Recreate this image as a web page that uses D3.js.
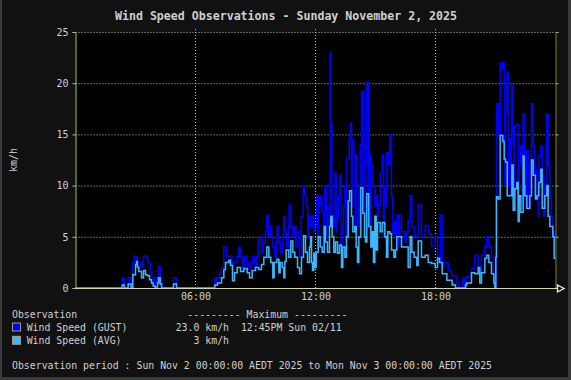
<!DOCTYPE html>
<html><head><meta charset="utf-8">
<script src="https://cdn.jsdelivr.net/npm/d3@7"></script>
<style>
html,body{margin:0;padding:0;background:#111;}
svg{display:block;}
text{font-family:"DejaVu Sans Mono",monospace;fill:#d0d0d0;}
</style></head><body>
<svg id="c" width="571" height="380"></svg>
<script>
const title = "Wind Speed Observations - Sunday November 2, 2025";
const yLabel = "km/h";
const yTicks = [0, 5, 10, 15, 20, 25];
const xTickTimes = ["06:00", "12:00", "18:00"];
const seriesNames = ["Wind Speed (GUST)", "Wind Speed (AVG)"];
const seriesColors = ["#0000ff", "#3cb8ff"];
const legendHeader = "--------- Maximum ---------";
const maxTexts = ["23.0 km/h  12:45PM Sun 02/11", "   3 km/h"];
const periodText = "Observation period : Sun Nov 2 00:00:00 AEDT 2025 to Mon Nov 3 00:00:00 AEDT 2025";

// [time, km/h] step observations
const gustObs = [
["00:00",0],["02:20",1.0],["02:26",0],["02:38",1.0],["02:47",0],["02:52",2.5],["02:56",3.1],["03:04",2.1],["03:14",2.5],["03:20",2.1],
["03:24",3.1],["03:36",2.5],["03:44",1.5],["03:49",1.0],["03:53",0.5],["03:56",1.0],["03:59",0],["04:05",1.0],["04:08",2.1],["04:14",1.0],
["04:18",0.5],["04:20",0],["04:54",1.0],["05:03",0],["06:58",1.0],["07:03",0.5],["07:06",1.0],["07:13",1.5],["07:18",2.0],["07:25",4.0],
["07:34",3.1],["07:49",1.8],["07:53",2.5],["08:04",3.1],["08:10",4.0],["08:14",3.0],["08:21",2.0],["08:26",3.1],["08:34",2.5],["08:38",1.8],
["08:46",2.5],["08:52",3.1],["08:58",2.0],["09:04",3.1],["09:08",4.7],["09:13",5.0],["09:19",3.5],["09:24",4.5],["09:30",5.5],["09:34",7.1],
["09:39",5.0],["09:43",6.0],["09:48",5.0],["09:52",4.0],["09:57",3.0],["10:02",4.5],["10:05",6.0],["10:10",4.5],["10:14",3.5],["10:20",5.0],
["10:25",7.0],["10:28",5.5],["10:34",4.0],["10:38",6.0],["10:41",8.1],["10:46",6.0],["10:52",5.0],["10:56",6.0],["11:01",4.0],["11:06",5.5],
["11:12",3.0],["11:17",7.0],["11:23",10.0],["11:27",9.0],["11:32",8.0],["11:37",5.0],["11:41",7.0],["11:46",6.0],["11:50",7.1],["11:55",5.5],
["11:58",6.0],["12:03",9.0],["12:07",4.0],["12:09",9.0],["12:12",8.0],["12:17",9.0],["12:19",7.4],["12:24",3.5],["12:26",7.4],["12:28",10.0],
["12:33",5.0],["12:35",8.0],["12:41",6.0],["12:44",23.0],["12:46",16.0],["12:49",9.0],["12:53",6.0],["12:57",7.0],["12:59",11.2],["13:02",5.5],
["13:05",7.0],["13:09",9.0],["13:13",11.0],["13:17",4.0],["13:20",6.0],["13:24",8.0],["13:28",10.0],["13:31",5.0],["13:34",12.7],["13:41",14.6],
["13:45",16.1],["13:48",8.0],["13:50",14.5],["13:55",13.0],["13:59",6.0],["14:01",13.0],["14:03",9.0],["14:06",6.0],["14:11",10.0],["14:14",14.0],
["14:18",19.2],["14:22",9.0],["14:23",19.2],["14:25",15.6],["14:29",5.0],["14:31",12.0],["14:33",20.1],["14:38",8.0],["14:39",20.1],["14:41",13.0],
["14:45",5.0],["14:47",12.0],["14:53",10.0],["14:58",8.0],["15:03",9.0],["15:06",7.0],["15:10",8.1],["15:14",11.2],["15:20",13.0],["15:24",5.0],
["15:26",10.0],["15:30",8.0],["15:34",13.2],["15:38",12.0],["15:43",15.0],["15:48",9.0],["15:52",5.3],["15:56",6.5],["16:00",5.0],["16:04",7.1],
["16:10",4.0],["16:12",7.1],["16:18",5.5],["16:28",4.5],["16:32",5.5],["16:38",6.6],["16:44",9.0],["16:49",6.0],["16:56",5.0],["17:08",8.1],
["17:18",5.0],["17:29",6.1],["17:38",5.3],["17:48",4.1],["17:59",5.0],["18:06",2.5],["18:14",7.1],["18:20",2.0],["18:24",2.5],["18:38",1.7],
["18:48",1.2],["19:04",0.5],["19:10",0],["19:22",1.0],["19:25",0],["19:30",1.0],["19:33",1.1],["19:48",1.9],["19:58",3.2],["20:08",2.0],
["20:13",1.5],["20:18",3.2],["20:28",4.0],["20:34",5.0],["20:40",4.0],["20:48",3.0],["20:55",1.0],["20:58",0],["21:01",9.0],["21:04",18.0],
["21:09",15.0],["21:14",22.0],["21:19",21.4],["21:22",22.0],["21:26",19.5],["21:28",10.0],["21:30",17.0],["21:35",21.1],["21:38",10.0],["21:40",14.6],
["21:45",9.0],["21:47",14.6],["21:49",19.9],["21:53",13.9],["21:56",8.0],["21:58",15.9],["22:04",16.0],["22:08",8.0],["22:11",12.0],["22:16",13.9],
["22:20",8.0],["22:23",17.0],["22:28",12.6],["22:32",8.0],["22:34",13.4],["22:40",8.0],["22:43",12.0],["22:48",18.0],["22:53",13.9],["22:57",9.0],
["23:00",11.5],["23:05",11.0],["23:08",7.0],["23:10",12.9],["23:16",13.9],["23:20",11.0],["23:25",7.0],["23:28",10.0],["23:34",17.0],["23:38",12.0],
["23:43",9.0],["23:48",7.0],["23:52",5.0],["23:56",5.5]
];
const avgObs = [
["00:00",0],["02:20",0.3],["02:26",0],["02:38",0.4],["02:47",0],["02:52",1.3],["03:00",2.3],["03:03",2.6],["03:06",2.0],["03:10",1.6],
["03:18",1.0],["03:24",1.7],["03:30",1.3],["03:36",1.2],["03:42",0.8],["03:48",0.5],["03:53",0.2],["03:59",0],["04:06",0.5],["04:09",1.0],
["04:14",0.4],["04:18",0],["04:54",0.4],["05:03",0],["06:58",0.3],["07:06",0.5],["07:18",1.0],["07:25",1.8],["07:30",2.5],["07:40",2.7],
["07:45",2.2],["07:51",0.7],["07:57",1.5],["08:05",2.0],["08:15",1.6],["08:25",1.9],["08:35",1.5],["08:42",1.0],["08:50",1.7],["09:00",2.0],
["09:10",1.8],["09:18",2.3],["09:25",3.0],["09:34",4.0],["09:40",3.0],["09:46",2.5],["09:52",1.0],["09:56",2.5],["10:04",2.8],["10:10",1.5],
["10:14",2.5],["10:20",2.0],["10:25",1.0],["10:28",2.6],["10:32",3.7],["10:40",3.0],["10:46",4.6],["10:52",3.5],["10:58",3.0],["11:06",2.0],
["11:12",1.4],["11:18",3.0],["11:24",5.1],["11:30",3.5],["11:36",2.5],["11:42",4.0],["11:45",5.0],["11:48",2.5],["11:51",1.7],["11:55",3.4],
["11:58",2.0],["12:02",3.5],["12:08",5.0],["12:14",4.0],["12:20",3.5],["12:26",6.0],["12:30",4.5],["12:36",3.5],["12:42",6.0],["12:46",7.0],
["12:50",5.0],["12:55",3.5],["13:00",4.5],["13:06",3.4],["13:12",4.2],["13:18",2.0],["13:22",4.0],["13:28",3.0],["13:33",5.0],["13:38",8.5],
["13:42",9.5],["13:48",7.0],["13:52",5.5],["13:58",6.0],["14:02",4.0],["14:06",2.5],["14:10",5.0],["14:16",9.8],["14:22",7.3],["14:27",5.0],
["14:30",4.5],["14:34",9.2],["14:40",6.0],["14:46",4.0],["14:50",5.5],["14:54",2.5],["14:58",7.0],["15:02",3.7],["15:06",6.4],["15:14",5.5],
["15:20",6.4],["15:28",5.0],["15:33",3.0],["15:37",5.5],["15:43",5.3],["15:48",3.7],["15:55",3.0],["16:00",3.7],["16:04",5.0],["16:18",4.0],
["16:38",2.0],["16:44",5.0],["16:49",3.5],["16:56",3.0],["17:04",2.2],["17:08",4.6],["17:18",3.0],["17:29",3.2],["17:38",2.5],["17:48",2.4],
["17:59",2.0],["18:06",2.9],["18:12",2.5],["18:20",1.4],["18:34",0.75],["18:50",0.3],["19:00",0],["19:30",0.3],["19:33",0.5],["19:48",1.5],
["19:58",1.4],["20:08",2.0],["20:13",0.5],["20:18",1.5],["20:28",2.9],["20:34",3.2],["20:40",2.5],["20:48",1.4],["20:55",0.5],["20:58",0],
["21:01",3.0],["21:03",8.9],["21:08",8.7],["21:14",14.9],["21:22",14.3],["21:26",12.6],["21:30",12.3],["21:35",9.0],["21:49",12.0],["21:53",7.6],
["21:58",9.7],["22:04",10.3],["22:08",6.5],["22:11",9.0],["22:16",7.4],["22:23",12.9],["22:26",10.0],["22:28",9.0],["22:34",7.8],["22:43",9.0],
["22:48",12.5],["22:53",11.0],["23:00",8.7],["23:05",9.0],["23:10",10.3],["23:16",11.6],["23:20",7.8],["23:28",9.0],["23:34",10.0],["23:38",7.0],
["23:43",6.0],["23:52",5.0],["23:56",2.9]
];

const W = 571, H = 380;
const margin = {left: 75.5, right: 15.5, top: 32, bottom: 92};
const svg = d3.select("#c");
const day0 = new Date(2025, 10, 2, 0, 0);
const day1 = new Date(2025, 10, 3, 0, 0);
const parseT = s => { const [h, m] = s.split(":").map(Number); return new Date(2025, 10, 2, h, m); };

const x = d3.scaleTime().domain([day0, day1]).range([margin.left, W - margin.right]);
const y = d3.scaleLinear().domain([0, 25]).range([H - margin.bottom, margin.top]);

// background + frame
svg.append("rect").attr("width", W).attr("height", H).attr("fill", "#111");
svg.append("rect").attr("x", 0).attr("y", 0).attr("width", 2).attr("height", H).attr("fill", "#3a3a3a");
svg.append("rect").attr("x", W - 3).attr("y", 0).attr("width", 3).attr("height", H).attr("fill", "#3a3a3a");
svg.append("rect").attr("x", 0).attr("y", H - 3).attr("width", W).attr("height", 3).attr("fill", "#3a3a3a");
svg.append("rect").attr("x", x.range()[0]).attr("y", y(25)).attr("width", x.range()[1] - x.range()[0]).attr("height", y(0) - y(25)).attr("fill", "#000");

// grid
const gridCol = "#a8d4a0";
svg.append("g").selectAll("line").data(yTicks.filter(v => v > 0)).join("line")
  .attr("x1", x.range()[0]).attr("x2", x.range()[1]).attr("y1", d => y(d) + 0.5).attr("y2", d => y(d) + 0.5)
  .attr("stroke", gridCol).attr("stroke-width", 1).attr("stroke-dasharray", "1,2");
const xTickDates = xTickTimes.map(parseT);
svg.append("g").selectAll("line").data(xTickDates).join("line")
  .attr("x1", d => x(d)).attr("x2", d => x(d)).attr("y1", y(25) - 3).attr("y2", y(0))
  .attr("stroke", gridCol).attr("stroke-width", 1).attr("stroke-dasharray", "1,2");

// series
const toSeries = obs => {
  const pts = obs.map(([t, v]) => ({t: parseT(t), v}));
  pts.push({t: day1, v: obs[obs.length - 1][1]});
  return pts;
};
const line = d3.line().x(d => x(d.t)).y(d => y(d.v)).curve(d3.curveStepAfter);
[gustObs, avgObs].forEach((obs, i) => {
  svg.append("path").datum(toSeries(obs)).attr("d", line)
    .attr("fill", "none").attr("stroke", seriesColors[i]).attr("stroke-width", 1.5).attr("stroke-linejoin", "miter");
});

// axes
const yAxis = d3.axisLeft(y).tickValues(yTicks).tickSize(3).tickPadding(4).tickFormat(d3.format("d"));
const gy = svg.append("g").attr("transform", `translate(${x.range()[0]},0)`).call(yAxis);
gy.select(".domain").attr("stroke", "#a8c474");
gy.selectAll(".tick line").attr("stroke", "#a8c474");
gy.selectAll("text").attr("font-size", 10).attr("font-family", "DejaVu Sans Mono, monospace").attr("fill", "#d0d0d0");

const yAxisR = d3.axisRight(y).tickValues(yTicks).tickSize(3).tickFormat("");
const gyr = svg.append("g").attr("transform", `translate(${x.range()[1]},0)`).call(yAxisR);
gyr.select(".domain").attr("stroke", "#7a7a34");
gyr.selectAll(".tick line").attr("stroke", "#8cc48a");

const xAxis = d3.axisBottom(x).tickValues(xTickDates).tickSize(0).tickPadding(5).tickFormat(d3.timeFormat("%H:%M"));
const gx = svg.append("g").attr("transform", `translate(0,${y(0)})`).call(xAxis);
gx.select(".domain").attr("stroke", "#cfd6b8").attr("d", `M${x.range()[0]},0.5H${x.range()[1] + 2}`);
gx.selectAll("text").attr("font-size", 10).attr("font-family", "DejaVu Sans Mono, monospace").attr("fill", "#d0d0d0");

// arrow at end of x axis
const ax = x.range()[1] + 2, ay = y(0) + 0.5;
svg.append("path").attr("d", `M${ax},${ay - 3.5}L${ax + 6.5},${ay}L${ax},${ay + 3.5}Z`)
  .attr("fill", "#111").attr("stroke", "#f0f0f0").attr("stroke-width", 1.3);

// title & y label
svg.append("text").attr("x", 286).attr("y", 20).attr("text-anchor", "middle")
  .attr("font-size", 11.6).attr("font-weight", "bold").text(title);
svg.append("text").attr("transform", "translate(17,160) rotate(-90)").attr("text-anchor", "middle")
  .attr("font-size", 10).text(yLabel);

// legend
const lg = svg.append("g").attr("font-size", 9.85).style("white-space", "pre");
lg.append("text").attr("x", 12).attr("y", 317.5).attr("font-size", 9.85).text("Observation");
lg.append("text").attr("x", 187.3).attr("y", 317.5).attr("font-size", 9.85).text(legendHeader);
seriesNames.forEach((n, i) => {
  const yy = 331 + i * 13.3;
  lg.append("rect").attr("x", 12.5).attr("y", yy - 8).attr("width", 8).attr("height", 8)
    .attr("fill", seriesColors[i]).attr("stroke", "#9a9a9a").attr("stroke-width", 1);
  lg.append("text").attr("x", 26.7).attr("y", yy).attr("font-size", 9.85).text(n);
  lg.append("text").attr("x", 175.7).attr("y", yy).attr("font-size", 9.85).style("white-space", "pre").text(maxTexts[i]);
});
lg.append("text").attr("x", 12).attr("y", 369).attr("font-size", 9.85).text(periodText);
</script>
</body></html>
